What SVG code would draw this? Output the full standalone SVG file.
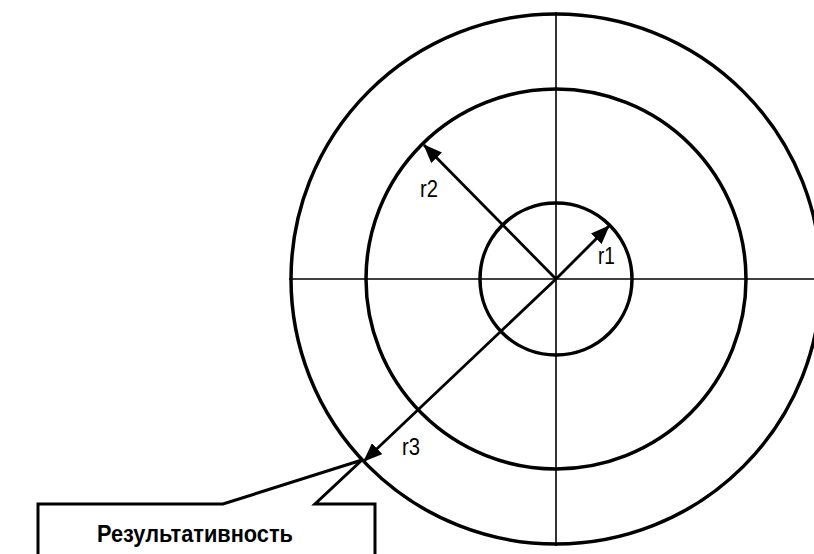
<svg xmlns="http://www.w3.org/2000/svg" width="814" height="554" viewBox="0 0 814 554">
<style>
.circ{fill:none;stroke:#000;stroke-width:3.5}
.axis{stroke:#000;stroke-width:1.6;fill:none}
.arr{stroke:#000;stroke-width:2.8;fill:none}
.lbl{font-family:"Liberation Sans",Arial,sans-serif;font-size:23px;fill:#000}
.call{fill:#fff;stroke:#000;stroke-width:3}
.bold{font-family:"Liberation Sans",Arial,sans-serif;font-size:23px;font-weight:bold;fill:#000}
</style>
<defs>
<marker id="ah" markerWidth="19" markerHeight="15" refX="18" refY="7.5" orient="auto" markerUnits="userSpaceOnUse">
<path d="M0,0 L19,7.5 L0,15 Z" fill="#000"/>
</marker>
</defs>
<rect width="814" height="554" fill="#fff"/>
<g id="circles">
<circle class="circ" cx="556" cy="279" r="265"/>
<circle class="circ" cx="556" cy="279" r="190"/>
<circle class="circ" cx="556" cy="279" r="76"/>
</g>
<g id="axes">
<line class="axis" x1="556" y1="12" x2="556" y2="546"/>
<line class="axis" x1="289" y1="279" x2="814" y2="279"/>
</g>
<g id="connectors">
<line class="arr" x1="556" y1="279" x2="609" y2="226" marker-end="url(#ah)"/>
<line class="arr" x1="556" y1="279" x2="424" y2="145" marker-end="url(#ah)"/>
<line class="arr" x1="556" y1="279" x2="364" y2="461" marker-end="url(#ah)"/>
</g>
<g id="labels">
<text class="lbl" x="598" y="264" textLength="17" lengthAdjust="spacingAndGlyphs">r1</text>
<text class="lbl" x="420" y="197" textLength="18" lengthAdjust="spacingAndGlyphs">r2</text>
<text class="lbl" x="402" y="455" textLength="18" lengthAdjust="spacingAndGlyphs">r3</text>
</g>
<g id="callout">
<path class="call" d="M38,558 L38,504 L223,504 L362,460 L315,504 L375,504 L375,558"/>
<text class="bold" x="195" y="542" text-anchor="middle" textLength="196" lengthAdjust="spacingAndGlyphs">Результативность</text>
</g>
</svg>
